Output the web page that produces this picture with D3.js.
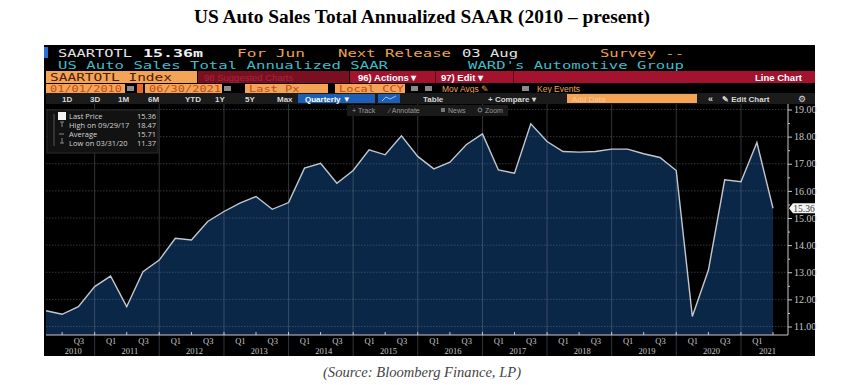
<!DOCTYPE html>
<html>
<head>
<meta charset="utf-8">
<script src="https://cdn.jsdelivr.net/npm/d3@7"></script>
<style>
  body { margin: 0; background: #fff; }
  svg { display: block; }
</style>
</head>
<body>
<div id="chart"></div>
<script>
// Quarterly US auto sales SAAR (millions), Q1 2010 - Q2 2021
var saar = [
  11.58, 11.45, 11.73, 12.47,
  12.86, 11.73, 13.02, 13.45,
  14.25, 14.19, 14.87, 15.24,
  15.55, 15.79, 15.32, 15.57,
  16.84, 17.02, 16.28, 16.75,
  17.51, 17.33, 18.03, 17.27,
  16.81, 17.06, 17.70, 18.10,
  16.77, 16.65, 18.47, 17.82,
  17.45, 17.43, 17.45, 17.54,
  17.54, 17.37, 17.23, 16.75,
  11.37, 13.08, 16.41, 16.34,
  17.78, 15.36
];
var years = [2010, 2011, 2012, 2013, 2014, 2015, 2016, 2017, 2018, 2019, 2020, 2021];
var quarterLabels = ["Q1", "Q3"];
var yTicks = [11, 12, 13, 14, 15, 16, 17, 18, 19];
var legendLabels = ["Last Price", "High on 09/29/17", "Average", "Low on 03/31/20"];
var legendValues = ["15.36", "18.47", "15.71", "11.37"];
var lastPrice = 15.36;

// quarter end dates for each point
var quarterEnds = saar.map(function(d, i) { return new Date(2010, 3 * i + 3, 0); });
var series = saar.map(function(v, i) { return { date: quarterEnds[i], value: v }; });

var svgWidth = 845;
var svgHeight = 385;

// plot box inside the terminal panel
var plot = { left: 46, right: 788, top: 104, bottom: 335 };

var svg = d3.select("#chart")
  .append("svg")
  .attr("width", svgWidth)
  .attr("height", svgHeight);

var mono = "'DejaVu Sans Mono', monospace";
var sans = "'Liberation Sans', Arial, sans-serif";
var orange = "#eda24f";

// Title and source
// ==============================
svg.append("text")
  .attr("x", 422)
  .attr("y", 23)
  .attr("text-anchor", "middle")
  .attr("textLength", 456)
  .attr("lengthAdjust", "spacingAndGlyphs")
  .style("font-family", "'Liberation Serif', serif")
  .style("font-weight", "bold")
  .style("font-size", "18px")
  .text("US Auto Sales Total Annualized SAAR (2010 \u2013 present)");

svg.append("text")
  .attr("x", 422)
  .attr("y", 377)
  .attr("text-anchor", "middle")
  .attr("textLength", 198)
  .attr("lengthAdjust", "spacingAndGlyphs")
  .style("font-family", "'Liberation Serif', serif")
  .style("font-style", "italic")
  .style("font-size", "14px")
  .attr("fill", "#444")
  .text("(Source: Bloomberg Finance, LP)");

// Terminal panel
// ==============================
svg.append("rect")
  .attr("x", 44).attr("y", 45)
  .attr("width", 771).attr("height", 311)
  .attr("fill", "#000");

svg.append("rect")
  .attr("x", 44).attr("y", 47)
  .attr("width", 4).attr("height", 11)
  .attr("fill", "#2a6fd6");

function monoText(txt, x, y, len, color, size, weight) {
  svg.append("text")
    .attr("x", x).attr("y", y)
    .attr("textLength", len)
    .attr("lengthAdjust", "spacingAndGlyphs")
    .style("font-family", mono)
    .style("font-size", (size || 10.5) + "px")
    .style("font-weight", weight || "normal")
    .attr("fill", color)
    .text(txt);
}

function sansText(txt, x, y, color, size, weight, anchor) {
  return svg.append("text")
    .attr("x", x).attr("y", y)
    .attr("text-anchor", anchor || "start")
    .style("font-family", sans)
    .style("font-size", (size || 9) + "px")
    .style("font-weight", weight || "normal")
    .attr("fill", color)
    .text(txt);
}

// row 1 + 2: ticker header
monoText("SAARTOTL", 58, 56.5, 74, "#e4e4e4");
monoText("15.36m", 143, 56.5, 60, "#f2f2f2", 10.5, "bold");
monoText("For Jun", 237, 56.5, 68, orange);
monoText("Next Release", 338, 56.5, 113, orange);
monoText("03 Aug", 462, 56.5, 56, "#e4e4e4");
monoText("Survey --", 600, 56.5, 84, orange);
monoText("US Auto Sales Total Annualized SAAR", 58, 68.5, 330, "#3cbccc");
monoText("WARD's Automotive Group", 468, 68.5, 216, "#3cbccc");

// row 3: index / actions bar
svg.append("rect").attr("x", 46).attr("y", 71).attr("width", 151).attr("height", 12).attr("fill", "#f3a456");
monoText("SAARTOTL Index", 50, 81, 122, "#4a1c0a", 10);
svg.append("rect").attr("x", 198).attr("y", 71).attr("width", 151).attr("height", 12).attr("fill", "#7a0f22");
sansText("98 Suggested Charts", 204, 80.5, "#a3283d", 9.5);
svg.append("rect").attr("x", 350).attr("y", 71).attr("width", 465).attr("height", 12).attr("fill", "#a3132f");
sansText("96) Actions \u25BE", 358, 80.5, "#fff", 9.5, "bold");
sansText("97) Edit \u25BE", 441, 80.5, "#fff", 9.5, "bold");
sansText("Line Chart", 802, 80.5, "#fff", 9.5, "bold", "end");
svg.append("rect").attr("x", 435).attr("y", 71).attr("width", 1).attr("height", 12).attr("fill", "#5a0a18");
svg.append("rect").attr("x", 513).attr("y", 71).attr("width", 1).attr("height", 12).attr("fill", "#5a0a18");

// row 4: date range and options
[[46, 79, "01/01/2010"], [145, 77, "06/30/2021"], [245, 83, "Last Px"], [335, 70, "Local CCY"]].forEach(function(b) {
  svg.append("rect").attr("x", b[0]).attr("y", 84).attr("width", b[1]).attr("height", 9).attr("fill", "#f3a456");
  monoText(b[2], b[0] + 4, 91.5, b[2].length * 7.2, "#c24b1c", 8.5);
});
svg.append("rect").attr("x", 137).attr("y", 84).attr("width", 6).attr("height", 9).attr("fill", "#e8662e");
[127, 224, 411, 425, 522].forEach(function(x) {
  svg.append("rect").attr("x", x).attr("y", 86).attr("width", 7).attr("height", 5).attr("fill", "#8a8a8a");
});
sansText("Mov Avgs \u270E", 442, 91.5, orange, 8.5);
sansText("Key Events", 537, 91.5, orange, 8.5);

// row 5: period buttons
svg.append("rect").attr("x", 46).attr("y", 93).attr("width", 769).attr("height", 11).attr("fill", "#1b1b1b");
[["1D", 62], ["3D", 90], ["1M", 118], ["6M", 148], ["YTD", 185], ["1Y", 215], ["5Y", 245], ["Max", 277]].forEach(function(b) {
  sansText(b[0], b[1], 102, "#d8d8d8", 8, "bold");
});
svg.append("rect").attr("x", 298).attr("y", 94).attr("width", 77).attr("height", 9).attr("fill", "#1d5fb6");
sansText("Quarterly \u25BC", 305, 102, "#fff", 8, "bold");
svg.append("rect").attr("x", 378).attr("y", 94).attr("width", 22).attr("height", 9).attr("fill", "#1d5fb6");
svg.append("path").attr("d", "M382,101 L386,97 L390,99 L396,96").attr("fill", "none").attr("stroke", "#9fc3f0").attr("stroke-width", 1);
sansText("Table", 423, 102, "#d8d8d8", 8, "bold");
sansText("+ Compare \u25BE", 488, 102, "#d8d8d8", 8, "bold");
svg.append("rect").attr("x", 567).attr("y", 94).attr("width", 130).attr("height", 9).attr("fill", "#f3a456");
sansText("Add Data", 572, 102, "#f9cc96", 8);
sansText("\u00AB", 708, 102, "#d8d8d8", 9, "bold");
sansText("\u270E Edit Chart", 722, 102, "#d8d8d8", 8, "bold");
sansText("\u2699", 798, 102, "#d8d8d8", 8.5);

// Plot area
// ==============================
var xScale = d3.scaleTime()
  .domain([quarterEnds[0], quarterEnds[quarterEnds.length - 1]])
  .range([46, 773]);

var yScale = d3.scaleLinear()
  .domain([11, 19])
  .range([326.5, 109.5]);

var area = d3.area()
  .x(function(d) { return xScale(d.date); })
  .y0(plot.bottom)
  .y1(function(d) { return yScale(d.value); });

var line = d3.line()
  .x(function(d) { return xScale(d.date); })
  .y(function(d) { return yScale(d.value); });

svg.append("path")
  .datum(series)
  .attr("d", area)
  .attr("fill", "#0b2748");

// horizontal dotted grid
svg.append("g").selectAll("line")
  .data(yTicks)
  .enter()
  .append("line")
  .attr("x1", plot.left).attr("x2", plot.right)
  .attr("y1", function(d) { return yScale(d); })
  .attr("y2", function(d) { return yScale(d); })
  .attr("stroke", "#6a7684")
  .attr("stroke-opacity", 0.45)
  .attr("stroke-dasharray", "1.5,1.5");

// year separators
var separators = years.slice(1).map(function(yr) { return new Date(yr - 1, 11, 31); });
svg.append("g").selectAll("line")
  .data(separators)
  .enter()
  .append("line")
  .attr("x1", function(d) { return xScale(d); })
  .attr("x2", function(d) { return xScale(d); })
  .attr("y1", plot.top).attr("y2", 356)
  .attr("stroke", "#7a8694")
  .attr("stroke-opacity", 0.4);

svg.append("path")
  .datum(series)
  .attr("d", line)
  .attr("fill", "none")
  .attr("stroke", "#c4c8cd")
  .attr("stroke-width", 1.4);

// Axes
// ==============================
var axisColor = "#c8c8c8";

var rightAxis = d3.axisRight(yScale)
  .tickValues(yTicks)
  .tickSize(4)
  .tickPadding(2)
  .tickFormat(d3.format(".2f"));

var yAxisG = svg.append("g")
  .attr("transform", "translate(" + plot.right + ",0)")
  .call(rightAxis);
yAxisG.select(".domain").remove();
yAxisG.selectAll("line").attr("stroke", axisColor);
yAxisG.selectAll("text")
  .attr("fill", axisColor)
  .style("font-family", "'Liberation Serif', serif")
  .style("font-size", "10px");

var minorAxis = d3.axisRight(yScale)
  .tickValues(yTicks.slice(1).map(function(d) { return d - 0.5; }))
  .tickSize(2)
  .tickFormat("");
var minorG = svg.append("g")
  .attr("transform", "translate(" + plot.right + ",0)")
  .call(minorAxis);
minorG.select(".domain").remove();
minorG.selectAll("line").attr("stroke", axisColor);

svg.append("line")
  .attr("x1", plot.right).attr("x2", plot.right)
  .attr("y1", plot.top).attr("y2", plot.bottom)
  .attr("stroke", axisColor);

// bottom axis: Q1 / Q3 labels
var quarterTickDates = [];
years.forEach(function(yr) {
  [new Date(yr, 3, 0), new Date(yr, 9, 0)].forEach(function(d) {
    var px = xScale(d);
    if (px > plot.left + 4 && px < plot.right - 4) quarterTickDates.push(d);
  });
});

var bottomAxis = d3.axisBottom(xScale)
  .tickValues(quarterTickDates)
  .tickSize(0)
  .tickPadding(3)
  .tickFormat(function(d) { return d.getMonth() === 2 ? quarterLabels[0] : quarterLabels[1]; });

var xAxisG = svg.append("g")
  .attr("transform", "translate(0," + plot.bottom + ")")
  .call(bottomAxis);
xAxisG.select(".domain").remove();
xAxisG.selectAll("text")
  .attr("fill", axisColor)
  .style("font-family", "'Liberation Serif', serif")
  .style("font-size", "8.5px");

svg.append("line")
  .attr("x1", plot.left).attr("x2", plot.right)
  .attr("y1", plot.bottom).attr("y2", plot.bottom)
  .attr("stroke", axisColor);

// small half-year ticks on the axis line
var halfTicks = [];
years.forEach(function(yr) {
  [new Date(yr, 6, 0), new Date(yr, 12, 0)].forEach(function(d) {
    var px = xScale(d);
    if (px > plot.left && px < plot.right) halfTicks.push(d);
  });
});
svg.append("g").selectAll("line")
  .data(halfTicks)
  .enter()
  .append("line")
  .attr("x1", function(d) { return xScale(d); })
  .attr("x2", function(d) { return xScale(d); })
  .attr("y1", plot.bottom - 3).attr("y2", plot.bottom)
  .attr("stroke", axisColor);

// year labels centred in the visible part of each year
svg.append("g").selectAll("text")
  .data(years)
  .enter()
  .append("text")
  .attr("x", function(yr) {
    var a = Math.max(plot.left, xScale(new Date(yr - 1, 11, 31)));
    var b = Math.min(plot.right, xScale(new Date(yr, 11, 31)));
    return (a + b) / 2 + 3;
  })
  .attr("y", 354)
  .attr("text-anchor", "middle")
  .attr("fill", axisColor)
  .style("font-family", "'Liberation Serif', serif")
  .style("font-size", "8.5px")
  .text(function(yr) { return yr; });

// last price tag
var tagY = yScale(lastPrice);
svg.append("path")
  .attr("d", "M" + (plot.right + 1) + "," + tagY + " l4,-5 h22 v10 h-22 z")
  .attr("fill", "#f4f4f4");
svg.append("text")
  .attr("x", plot.right + 16)
  .attr("y", tagY + 3.5)
  .attr("text-anchor", "middle")
  .attr("fill", "#333")
  .style("font-family", "'Liberation Serif', serif")
  .style("font-size", "9.5px")
  .text(lastPrice.toFixed(2));

// Track / Annotate strip
// ==============================
svg.append("rect").attr("x", 347).attr("y", 105).attr("width", 161).attr("height", 11).attr("fill", "#1a1a1a");
sansText("+ Track", 352, 113, "#9a9a9a", 7);
sansText("\u2215 Annotate", 389, 113, "#9a9a9a", 7);
svg.append("rect").attr("x", 441).attr("y", 108).attr("width", 4).attr("height", 4).attr("fill", "#777");
sansText("News", 448, 113, "#9a9a9a", 7);
svg.append("circle").attr("cx", 480).attr("cy", 110).attr("r", 2).attr("fill", "none").attr("stroke", "#888");
sansText("Zoom", 485, 113, "#9a9a9a", 7);

// Legend box
// ==============================
var legend = svg.append("g");
legend.append("rect")
  .attr("x", 47).attr("y", 110)
  .attr("width", 111).attr("height", 43)
  .attr("fill", "#121212")
  .attr("stroke", "#2b2b2b");
legend.append("line")
  .attr("x1", 54).attr("x2", 54).attr("y1", 114).attr("y2", 146)
  .attr("stroke", "#555");
legend.append("rect")
  .attr("x", 58).attr("y", 112).attr("width", 8).attr("height", 8)
  .attr("fill", "#f2f2f2");
legend.selectAll("text.lbl")
  .data(legendLabels)
  .enter()
  .append("text")
  .attr("class", "lbl")
  .attr("x", 69)
  .attr("y", function(d, i) { return 119 + i * 9; })
  .attr("fill", "#d4d4d4")
  .style("font-family", "'Open Sans', sans-serif")
  .style("font-size", "7.5px")
  .text(function(d) { return d; });
legend.selectAll("text.val")
  .data(legendValues)
  .enter()
  .append("text")
  .attr("class", "val")
  .attr("x", 137)
  .attr("y", function(d, i) { return 119 + i * 9; })
  .attr("fill", "#d4d4d4")
  .style("font-family", "'Open Sans', sans-serif")
  .style("font-size", "7.5px")
  .text(function(d) { return d; });
// small markers for high / average / low
legend.append("path")
  .attr("d", "M60,122 h4 M62,122 v5 M59,134 h5 M62,138 v5 M60,143 h4")
  .attr("stroke", "#888").attr("fill", "none");
</script>
</body>
</html>
